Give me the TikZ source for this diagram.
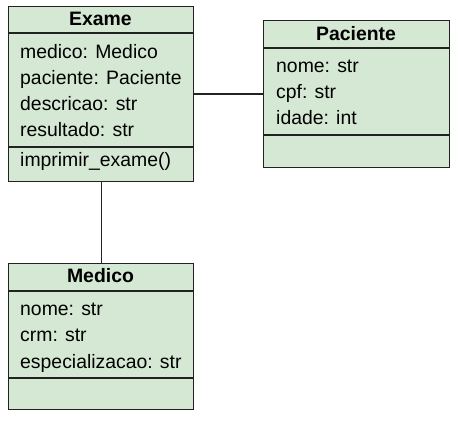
\documentclass[tikz,border=0pt]{standalone}
\usepackage{fontspec}
\setmainfont{Liberation Sans}
\definecolor{umlfill}{HTML}{D5E8D4}
\definecolor{umlline}{HTML}{222222}
\begin{document}
\begin{tikzpicture}[x=1pt,y=-1pt,
  box/.style={draw=umlline,fill=umlfill,line width=1.3pt,rectangle,inner sep=0pt,anchor=north west},
  sep/.style={draw=umlline,line width=1.3pt},
  conn/.style={draw=umlline,line width=1.3pt},
  attr/.style={anchor=base west,inner sep=0pt,font=\fontsize{19.4}{22}\selectfont},
  title/.style={anchor=base,inner sep=0pt,font=\fontsize{19.4}{22}\selectfont\bfseries}]
\useasboundingbox (0,0) rectangle (458,422);
% Exame
\node[box,minimum width=185pt,minimum height=175pt] (exame) at (8,6) {};
\draw[sep] (8,33) -- (193,33);
\draw[sep] (8,147) -- (193,147);
\node[title] (exameT) at (100.5,26) {Exame};
\node[attr] (e1) at (20,59) {medico: Medico};
\node[attr] (e2) at (20,85) {paciente: Paciente};
\node[attr] (e3) at (20,111) {descricao: str};
\node[attr] (e4) at (20,137) {resultado: str};
\node[attr] (e5) at (20,167) {imprimir\_exame()};
% Paciente
\node[box,minimum width=186pt,minimum height=147pt] (paciente) at (263,20) {};
\draw[sep] (263,48) -- (449,48);
\draw[sep] (263,135) -- (449,135);
\node[title] (pacienteT) at (356,41) {Paciente};
\node[attr] (p1) at (276,73) {nome: str};
\node[attr] (p2) at (276,99) {cpf: str};
\node[attr] (p3) at (276,125) {idade: int};
% Medico
\node[box,minimum width=185pt,minimum height=146pt] (medico) at (8,263) {};
\draw[sep] (8,291) -- (193,291);
\draw[sep] (8,378) -- (193,378);
\node[title] (medicoT) at (100.5,283) {Medico};
\node[attr] (m1) at (20,315) {nome: str};
\node[attr] (m2) at (20,341) {crm: str};
\node[attr] (m3) at (20,368) {especializacao: str};
% connectors
\draw[conn] (exame.east) -- (paciente.west);
\draw[conn] (exame.south) -- (medico.north);
\end{tikzpicture}
\end{document}
